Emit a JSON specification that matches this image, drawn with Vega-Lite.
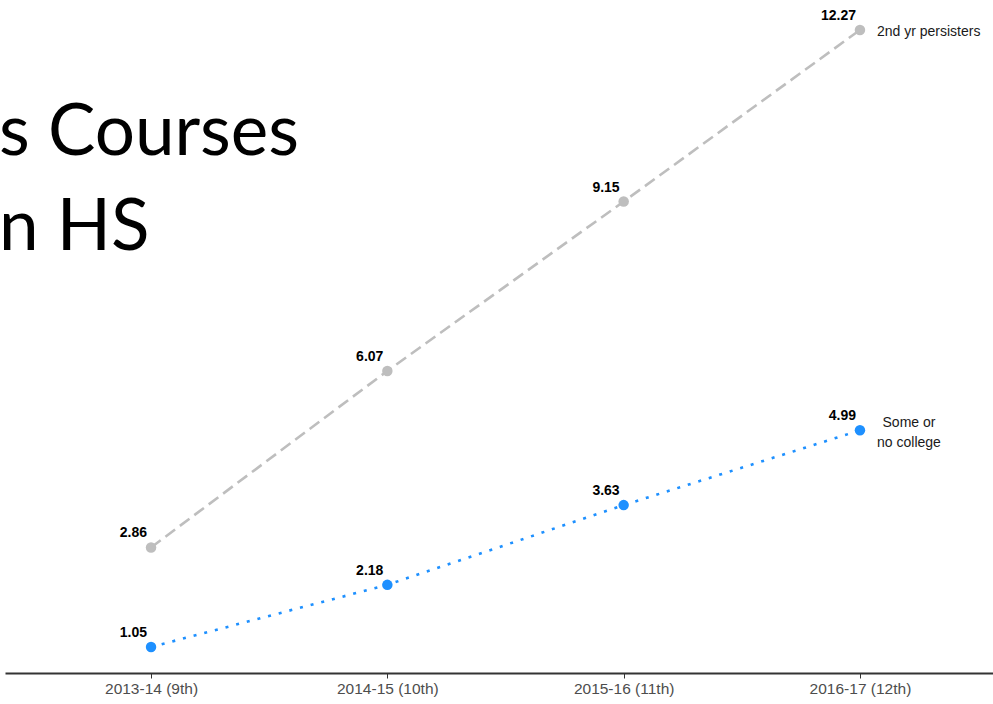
{
  "$schema": "https://vega.github.io/schema/vega-lite/v6.json",
  "autosize": {"type": "none"},
  "padding": {"left": 5, "top": 0, "right": 0, "bottom": 31},
  "width": 1001,
  "height": 673,
  "background": "white",
  "config": {"view": {"stroke": null}},
  "title": {
    "text": ["s Courses", "n HS"],
    "anchor": "start",
    "frame": "group",
    "font": "Lato",
    "fontSize": 71,
    "fontWeight": "normal",
    "color": "black",
    "lineHeight": 95,
    "baseline": "alphabetic",
    "offset": 0,
    "dx": -6,
    "dy": 321
  },
  "data": {
    "values": [
      {"year": "2013-14 (9th)", "group": "persist", "value": 2.86, "label": "2nd yr persisters"},
      {"year": "2014-15 (10th)", "group": "persist", "value": 6.07, "label": "2nd yr persisters"},
      {"year": "2015-16 (11th)", "group": "persist", "value": 9.15, "label": "2nd yr persisters"},
      {"year": "2016-17 (12th)", "group": "persist", "value": 12.27, "label": "2nd yr persisters"},
      {"year": "2013-14 (9th)", "group": "some", "value": 1.05, "label": "Some or\nno college"},
      {"year": "2014-15 (10th)", "group": "some", "value": 2.18, "label": "Some or\nno college"},
      {"year": "2015-16 (11th)", "group": "some", "value": 3.63, "label": "Some or\nno college"},
      {"year": "2016-17 (12th)", "group": "some", "value": 4.99, "label": "Some or\nno college"}
    ]
  },
  "encoding": {
    "x": {
      "field": "year",
      "type": "ordinal",
      "sort": ["2013-14 (9th)", "2014-15 (10th)", "2015-16 (11th)", "2016-17 (12th)"],
      "scale": {"type": "point", "padding": 0.618},
      "axis": {
        "title": null,
        "labelAngle": 0,
        "labelFont": "Liberation Sans",
        "labelFontSize": 15.5,
        "labelColor": "#4d4d4d",
        "labelPadding": 3,
        "domainColor": "#333333",
        "domainWidth": 1.8,
        "tickColor": "#333333",
        "tickSize": 5,
        "tickWidth": 1,
        "grid": false
      }
    },
    "y": {
      "field": "value",
      "type": "quantitative",
      "scale": {"domain": [0.577, 12.815], "nice": false, "zero": false},
      "axis": null
    },
    "color": {
      "field": "group",
      "type": "nominal",
      "scale": {"domain": ["persist", "some"], "range": ["#bebebe", "#1e90ff"]},
      "legend": null
    }
  },
  "layer": [
    {
      "mark": {"type": "line", "strokeWidth": 2.6, "strokeCap": "butt"},
      "encoding": {
        "strokeDash": {
          "field": "group",
          "type": "nominal",
          "scale": {"domain": ["persist", "some"], "range": [[12, 6], [3, 8]]},
          "legend": null
        }
      }
    },
    {
      "mark": {"type": "point", "filled": true, "opacity": 1, "size": 110}
    },
    {
      "mark": {"type": "text", "align": "right", "baseline": "alphabetic", "dx": -4, "dy": -10, "font": "Liberation Sans", "fontSize": 14, "fontWeight": "bold", "color": "black"},
      "encoding": {
        "text": {"field": "value", "type": "quantitative", "format": ".2f"},
        "color": {"value": "black"}
      }
    },
    {
      "transform": [{"filter": "datum.year == '2016-17 (12th)' && datum.group == 'persist'"}],
      "mark": {"type": "text", "align": "left", "baseline": "middle", "dx": 17, "dy": 2, "font": "Liberation Sans", "fontSize": 14, "color": "#1a1a1a"},
      "encoding": {
        "text": {"field": "label", "type": "nominal"},
        "color": {"value": "#1a1a1a"}
      }
    },
    {
      "transform": [{"filter": "datum.year == '2016-17 (12th)' && datum.group == 'some'"}],
      "mark": {"type": "text", "align": "center", "baseline": "middle", "dx": 49, "dy": -7, "lineBreak": "\n", "lineHeight": 20, "font": "Liberation Sans", "fontSize": 14, "color": "#1a1a1a"},
      "encoding": {
        "text": {"field": "label", "type": "nominal"},
        "color": {"value": "#1a1a1a"}
      }
    }
  ]
}
